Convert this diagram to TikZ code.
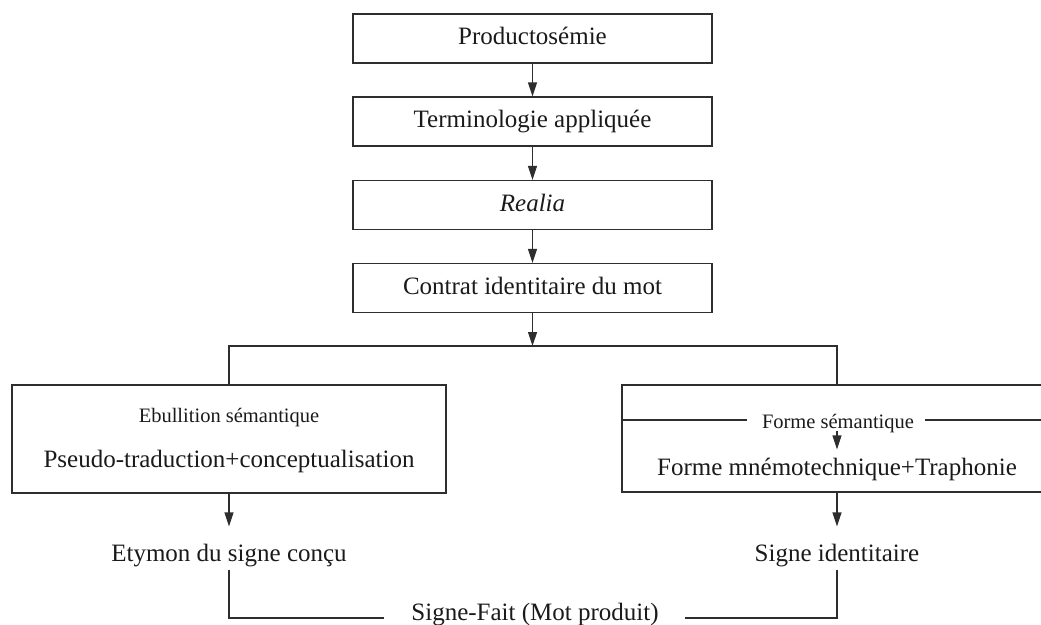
\documentclass[tikz,border=0pt]{standalone}
\usepackage{fontspec}
\setmainfont{Liberation Serif}
\usetikzlibrary{arrows.meta}
\definecolor{lc}{HTML}{2E2E2E}
\definecolor{tc}{HTML}{1A1A1A}
\begin{document}
\begin{tikzpicture}[x=1pt,y=-1pt,
  line/.style={draw=lc, line width=1.2pt},
  arr/.style={line, -{Triangle[width=9pt,length=14pt]}},
  topbox/.style={draw=lc, line width=1.2pt, minimum width=359pt, minimum height=49pt,
    inner sep=0pt, text height=17pt, text depth=5pt, text=tc, font=\fontsize{25}{30}\selectfont},
  bigbox/.style={draw=lc, line width=1.2pt, minimum width=434pt, minimum height=108pt, inner sep=0pt},
  big/.style={font=\fontsize{25}{30}\selectfont, inner sep=0pt, text=tc},
  small/.style={font=\fontsize{20.5}{24}\selectfont, inner sep=0pt, text=tc}]
\useasboundingbox (0,0) rectangle (1041,624);
% top chain
\node[topbox] (b1) at (532.5,38.5) {Productosémie};
\node[topbox] (b2) at (532.5,121.5) {Terminologie appliquée};
\node[topbox] (b3) at (532.5,205) {\itshape Realia};
\node[topbox] (b4) at (532.5,288) {Contrat identitaire du mot};
\draw[arr] (b1.south) -- (b2.north);
\draw[arr] (b2.south) -- (b3.north);
\draw[arr] (b3.south) -- (b4.north);
% split
\coordinate (split) at (532.5,346);
\draw[arr] (b4.south) -- (split);
% big boxes
\node[bigbox] (lb) at (229,439) {};
\node[bigbox, minimum width=430pt, minimum height=107pt] (rb) at (837,438.5) {};
\draw[line] (lb.north) |- (split) -| (rb.north);
% left box texts
\node[small, anchor=base] (ebu) at (229,422) {Ebullition sémantique};
\node[big, anchor=base] (pseudo) at (229,467) {Pseudo-traduction+conceptualisation};
% right box texts
\node[small, anchor=base] (fs) at (838,428) {Forme sémantique};
\node[big, anchor=base] (fm) at (837,475) {Forme mnémotechnique+Traphonie};
\coordinate (fsl) at (747,420);
\coordinate (fsr) at (925,420);
\draw[line] (rb.west |- fsl) -- (fsl);
\draw[line] (fsr) -- (rb.east |- fsr);
\draw[arr] ([yshift=-3pt]fs.base -| fm.base) -- ([yshift=8pt]fm.north);
% bottom texts
\node[big, anchor=base] (ety) at (229,561) {Etymon du signe conçu};
\node[big, anchor=base] (sig) at (837,561) {Signe identitaire};
\node[big, anchor=base] (fait) at (535,620) {Signe-Fait (Mot produit)};
\draw[arr] (lb.south) -- ([yshift=17pt]ety.north);
\draw[arr] (rb.south) -- ([yshift=17pt]sig.north);
\draw[line] ([yshift=-3pt]ety.south) |- ([xshift=-27pt,yshift=-4pt]fait.west);
\draw[line] ([yshift=-3pt]sig.south) |- ([xshift=26pt,yshift=-4pt]fait.east);
\end{tikzpicture}
\end{document}
